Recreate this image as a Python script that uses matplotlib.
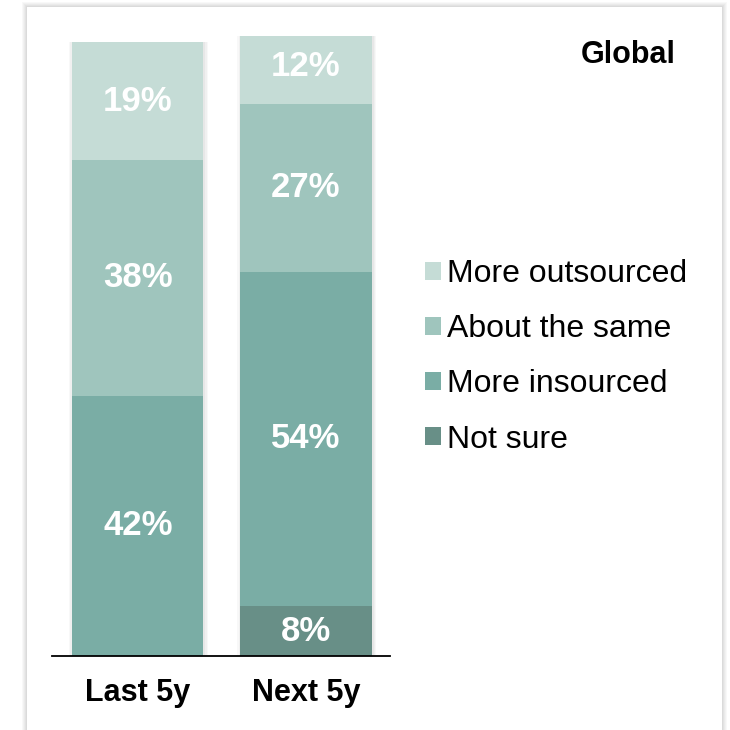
import matplotlib.pyplot as plt
import matplotlib.patches as mpatches
import numpy as np

plt.rcParams['font.family'] = ['Liberation Sans', 'DejaVu Sans']

periods = ["Last 5y", "Next 5y"]
categories = ["Not sure", "More insourced", "About the same", "More outsourced"]
not_sure = [0, 8]
insourced = [42, 54]
same = [38, 27]
outsourced = [19, 12]
colors = ["#688f87", "#7aada5", "#9fc5bd", "#c5dcd6"]

series = [not_sure, insourced, same, outsourced]

fig = plt.figure(figsize=(7.3, 7.3), dpi=100)
fig.patch.set_facecolor("white")

# card with a soft drop shadow
for i, a in enumerate([0.05, 0.05, 0.06, 0.07, 0.08]):
    d = (5 - i) / 730
    fig.patches.append(mpatches.Rectangle((27 / 730 - d, -0.05), 695 / 730 + 2 * d, 1.05 - 7 / 730 + d,
                                          transform=fig.transFigure, facecolor="#808080",
                                          alpha=a, edgecolor="none", zorder=-2))
fig.patches.append(mpatches.Rectangle((27 / 730, -0.05), 695 / 730, 1.05 - 7 / 730,
                                      transform=fig.transFigure, facecolor="white",
                                      edgecolor="none", zorder=-1))

ax = fig.add_axes([52 / 730, 74 / 730, 338 / 730, 620 / 730])
ax.set_zorder(1)
ax.patch.set_visible(False)
x = np.arange(len(periods))
width = 0.78

# faint shadow behind each bar
totals = np.sum(series, axis=0)
for k, a in enumerate([0.04, 0.05, 0.06]):
    ax.bar(x + 0.005, totals, width + 0.045 - k * 0.015, color="#606060", alpha=a, zorder=1)

bottom = np.zeros(len(periods))
for vals, c, name in zip(series, colors, categories):
    vals = np.array(vals)
    ax.bar(x, vals, width, bottom=bottom, color=c, label=name, zorder=2)
    for xi, v, b in zip(x, vals, bottom):
        if v > 0:
            ax.text(xi, b + v / 2, f"{v}%", ha="center", va="center", color="white",
                    fontsize=25, fontweight="bold", zorder=3)
    bottom += vals

ax.set_xlim(-0.51, 1.50)
ax.set_ylim(0, 100)
ax.set_xticks(x)
ax.set_xticklabels(periods, fontsize=22, fontweight="bold")
ax.tick_params(axis="x", length=0, pad=16)
ax.set_yticks([])
for s in ["top", "right", "left"]:
    ax.spines[s].set_visible(False)
ax.spines["bottom"].set_linewidth(1.3)
ax.spines["bottom"].set_zorder(4)

fig.text(628 / 730, 1 - 55 / 730, "Global", ha="center", va="center",
         fontsize=22, fontweight="bold")

handles, labels = ax.get_legend_handles_labels()
leg = fig.legend(handles[::-1], labels[::-1], loc="upper left",
                 bbox_to_anchor=(425 / 730, 1 - 259 / 730), frameon=False,
                 fontsize=23, handlelength=0.5, handleheight=0.5, handletextpad=0.2,
                 labelspacing=0.79, borderpad=0, borderaxespad=0)
leg.set_zorder(2)

fig.savefig("out.png", dpi=100)
